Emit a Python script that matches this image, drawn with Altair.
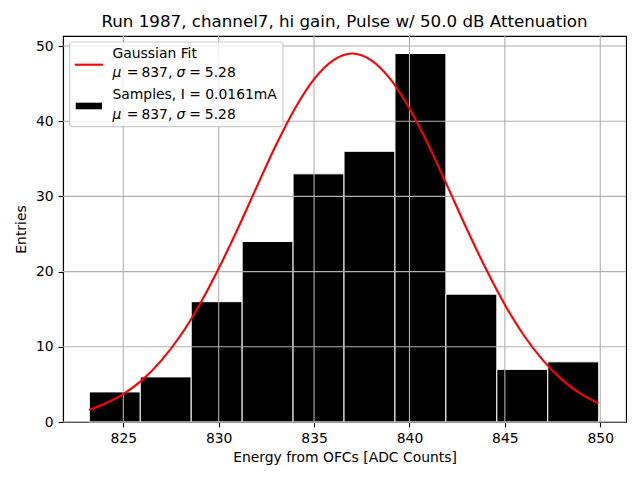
import altair as alt
import pandas as pd

# ---- data ----
bin_edges = [823.22, 825.89, 828.56, 831.23, 833.90, 836.57, 839.24, 841.91, 844.58, 847.25, 849.92]
counts = [4, 6, 16, 24, 33, 36, 49, 17, 7, 8]

fit_x = [823.2, 824, 825, 826, 827, 828, 829, 830, 831, 832, 833, 834, 835, 836, 837,
         838, 839, 840, 841, 842, 843, 844, 845, 846, 847, 848, 849, 849.9]
fit_y = [1.6, 2.4, 3.7, 5.6, 8.2, 11.5, 15.6, 20.4, 25.7, 31.3, 36.8, 41.7, 45.6, 48.1, 49.0,
         48.1, 45.6, 41.7, 36.8, 31.3, 25.7, 20.4, 15.6, 11.5, 8.2, 5.6, 3.7, 2.5]

x_ticks = [825, 830, 835, 840, 845, 850]
y_ticks = [0, 10, 20, 30, 40, 50]

title_text = "Run 1987, channel7, hi gain, Pulse w/ 50.0 dB Attenuation"
x_title = "Energy from OFCs [ADC Counts]"
y_title = "Entries"
legend_heads = ["Gaussian Fit", "Samples, I = 0.0161mA"]
legend_math = ["\u03bc", "=", "837,", "\u03c3", "=", "5.28"]
legend_math_italic = [True, False, False, True, False, False]

FONT = "DejaVu Sans"

bars_df = pd.DataFrame({"start": bin_edges[:-1], "end": bin_edges[1:], "count": counts})
fit_df = pd.DataFrame({"x": fit_x, "y": fit_y})
xt_df = pd.DataFrame({"v": x_ticks})
yt_df = pd.DataFrame({"v": y_ticks})
one = pd.DataFrame({"k": [0]})

xscale = alt.Scale(domain=[821.84, 851.35], nice=False, zero=False)
yscale = alt.Scale(domain=[0, 51.33], nice=False, zero=False)

bars = alt.Chart(bars_df).mark_rect(fill="black", stroke="white", strokeWidth=1).encode(
    x=alt.X("start:Q", scale=xscale,
            axis=alt.Axis(values=x_ticks, title=x_title, grid=False, format="d")),
    x2="end:Q",
    y=alt.Y("count:Q", scale=yscale,
            axis=alt.Axis(values=y_ticks, title=y_title, grid=False, format="d")),
    y2=alt.datum(0),
)

xgrid = alt.Chart(xt_df).mark_rule(color="#b0b0b0", strokeWidth=1.1).encode(
    x=alt.X("v:Q", scale=xscale))
ygrid = alt.Chart(yt_df).mark_rule(color="#b0b0b0", strokeWidth=1.1).encode(
    y=alt.Y("v:Q", scale=yscale))

curve = alt.Chart(fit_df).mark_line(color="red", strokeWidth=2.1, interpolate="monotone").encode(
    x=alt.X("x:Q", scale=xscale),
    y=alt.Y("y:Q", scale=yscale),
)

# ---- legend (drawn manually, matplotlib style) ----
box = alt.Chart(one).mark_rect(fill="white", fillOpacity=0.8, stroke="#cccccc",
                               strokeWidth=1.2, cornerRadius=3).encode(
    x=alt.value(6.7), x2=alt.value(220), y=alt.value(6), y2=alt.value(90.7))
leg_line = alt.Chart(one).mark_rule(color="red", strokeWidth=2.1).encode(
    x=alt.value(11.7), x2=alt.value(40), y=alt.value(28.7))
leg_patch = alt.Chart(one).mark_rect(fill="black").encode(
    x=alt.value(12.7), x2=alt.value(39), y=alt.value(66.7), y2=alt.value(73.3))


def txt(s, x, y, italic=False):
    return alt.Chart(one).mark_text(
        align="left", baseline="alphabetic", font=FONT, fontSize=13.9, color="black",
        fontStyle="italic" if italic else "normal",
    ).encode(x=alt.value(x), y=alt.value(y), text=alt.value(s))


head_y = [22.3, 63.3]
math_y = [40.7, 83.0]
math_x = [49.5, 63.8, 78.4, 113.5, 126.2, 141.8]

leg_texts = []
for head, hy, my in zip(legend_heads, head_y, math_y):
    leg_texts.append(txt(head, 49.5, hy))
    for piece, px, it in zip(legend_math, math_x, legend_math_italic):
        leg_texts.append(txt(piece, px, my, it))

chart = alt.layer(bars, xgrid, ygrid, curve, box, leg_line, leg_patch, *leg_texts).properties(
    width=563, height=386,
    padding={"left": 55, "top": 28, "right": 6, "bottom": 50},
    autosize=alt.AutoSizeParams(type="none"),
    title=alt.TitleParams(title_text, font=FONT, fontSize=16.7, fontWeight="normal",
                          color="black", anchor="middle", offset=5),
).configure_view(
    stroke="black", strokeWidth=1.1
).configure_axis(
    labelFont=FONT, labelFontSize=13.9, labelColor="black",
    titleFont=FONT, titleFontSize=13.9, titleFontWeight="normal", titleColor="black",
    tickColor="black", tickSize=4.9, tickWidth=1.1,
    domainColor="black", domainWidth=1.1, labelPadding=4.9,
).configure_axisX(
    titlePadding=5
).configure_axisY(
    titlePadding=7.5
)

chart.save("out.html", embed_options={"renderer": "svg", "actions": False})
